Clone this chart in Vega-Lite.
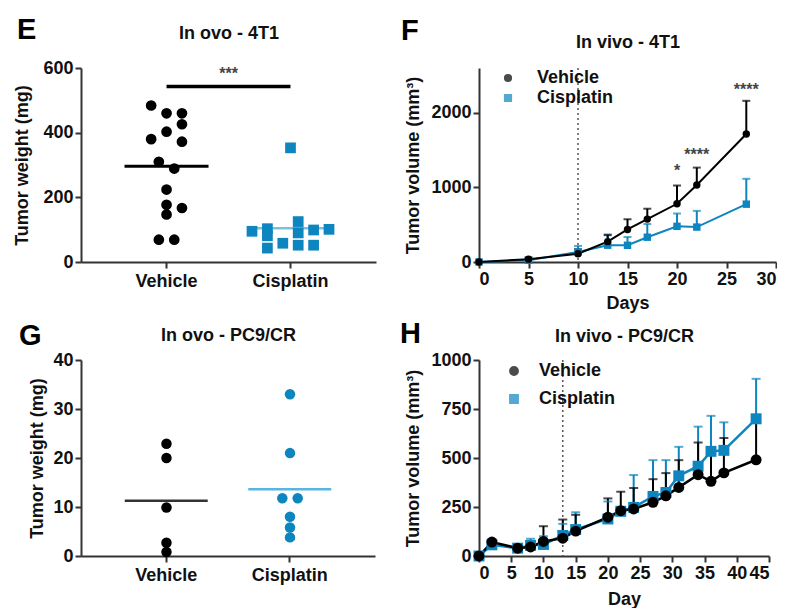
{
  "$schema": "https://vega.github.io/schema/vega-lite/v6.json",
  "padding": {"left": 13, "top": 16, "right": 0, "bottom": 0},
  "config": {
    "font": "Liberation Sans",
    "view": {"stroke": null},
    "axis": {"grid": false, "domainColor": "#333333", "domainWidth": 2, "tickColor": "#333333", "tickWidth": 2, "tickSize": 6, "labelFont": "Liberation Sans", "labelFontWeight": "bold", "labelFontSize": 18, "labelColor": "#111111", "titleFont": "Liberation Sans", "titleFontWeight": "bold", "titleFontSize": 18, "titleColor": "#111111", "labelPadding": 2, "titlePadding": 8},
    "axisQuantitative": {"format": "d"},
    "title": {"font": "Liberation Sans", "fontWeight": "bold", "fontSize": 29, "color": "#000000"},
    "legend": {"labelFont": "Liberation Sans", "labelFontWeight": "bold", "labelFontSize": 18, "labelColor": "#111111"}
  },
  "columns": 2,
  "bounds": "flush",
  "spacing": {"row": 98, "column": 103},
  "resolve": {"scale": {"color": "independent", "shape": "independent", "fill": "independent"}},
  "concat": [
    {
      "width": 295, "height": 194,
      "title": {"text": "E", "anchor": "start", "frame": "bounds", "offset": -21, "dx": 3},
      "data": {"values": [
        {"group": "Vehicle", "weight": 484, "slot": -2},
        {"group": "Vehicle", "weight": 460, "slot": 0},
        {"group": "Vehicle", "weight": 460, "slot": 2},
        {"group": "Vehicle", "weight": 426, "slot": 2},
        {"group": "Vehicle", "weight": 403, "slot": 0},
        {"group": "Vehicle", "weight": 380, "slot": -2},
        {"group": "Vehicle", "weight": 372, "slot": 2},
        {"group": "Vehicle", "weight": 310, "slot": -1},
        {"group": "Vehicle", "weight": 289, "slot": 1},
        {"group": "Vehicle", "weight": 224, "slot": 0},
        {"group": "Vehicle", "weight": 177, "slot": 0},
        {"group": "Vehicle", "weight": 167, "slot": 2},
        {"group": "Vehicle", "weight": 147, "slot": 0},
        {"group": "Vehicle", "weight": 69, "slot": -1},
        {"group": "Vehicle", "weight": 69, "slot": 1},
        {"group": "Cisplatin", "weight": 95, "slot": -5},
        {"group": "Cisplatin", "weight": 103, "slot": -3},
        {"group": "Cisplatin", "weight": 81, "slot": -3},
        {"group": "Cisplatin", "weight": 43, "slot": -3},
        {"group": "Cisplatin", "weight": 58, "slot": -1},
        {"group": "Cisplatin", "weight": 125, "slot": 1},
        {"group": "Cisplatin", "weight": 90, "slot": 1},
        {"group": "Cisplatin", "weight": 52, "slot": 1},
        {"group": "Cisplatin", "weight": 99, "slot": 3},
        {"group": "Cisplatin", "weight": 52, "slot": 3},
        {"group": "Cisplatin", "weight": 101, "slot": 5},
        {"group": "Cisplatin", "weight": 353, "slot": 0}
      ]},
      "layer": [
        {
          "transform": [{"filter": "datum.group === 'Cisplatin'"}],
          "mark": {"type": "tick", "orient": "horizontal", "size": 84, "thickness": 2.5, "color": "#7cc0dd"},
          "encoding": {
            "x": {"field": "group", "type": "nominal", "scale": {"domain": ["Vehicle", "Cisplatin"], "paddingInner": 0, "paddingOuter": 0.19}, "axis": {"orient": "top", "title": "In ovo - 4T1", "labels": false, "ticks": false, "domain": false, "titleFontSize": 18, "titlePadding": 26}},
            "y": {"aggregate": "mean", "field": "weight", "type": "quantitative", "scale": {"domain": [0, 600]}}
          }
        },
        {
          "layer": [
            {
              "mark": {"type": "point", "filled": true, "opacity": 1, "size": 115},
              "encoding": {
                "x": {"field": "group", "type": "nominal", "scale": {"domain": ["Vehicle", "Cisplatin"], "paddingInner": 0, "paddingOuter": 0.19}, "axis": {"orient": "bottom", "title": null, "labelAngle": 0, "labelPadding": 4}},
                "xOffset": {"field": "slot", "type": "quantitative", "scale": {"domain": [-5, 5], "range": [23.5, 100.5]}},
                "y": {"field": "weight", "type": "quantitative", "scale": {"domain": [0, 600]}, "axis": {"title": "Tumor weight (mg)", "values": [0, 200, 400, 600], "titlePadding": 11}},
                "color": {"field": "group", "type": "nominal", "scale": {"domain": ["Vehicle", "Cisplatin"], "range": ["#000000", "#0d85bf"]}, "legend": null},
                "shape": {"field": "group", "type": "nominal", "scale": {"domain": ["Vehicle", "Cisplatin"], "range": ["circle", "square"]}, "legend": null}
              }
            },
            {
              "transform": [{"filter": "datum.group === 'Vehicle'"}],
              "mark": {"type": "tick", "orient": "horizontal", "size": 84, "thickness": 3, "color": "#000000"},
              "encoding": {
                "x": {"field": "group", "type": "nominal"},
                "y": {"aggregate": "mean", "field": "weight", "type": "quantitative"}
              }
            },
            {
              "data": {"values": [{"a": "Vehicle", "b": "Cisplatin", "y": 543, "ty": 580, "label": "***"}]},
              "layer": [
                {
                  "mark": {"type": "rule", "strokeWidth": 3.5, "color": "#000000"},
                  "encoding": {
                    "x": {"field": "a", "type": "nominal"},
                    "x2": {"field": "b"},
                    "y": {"field": "y", "type": "quantitative"}
                  }
                },
                {
                  "mark": {"type": "text", "dx": 62, "fontSize": 16, "fontWeight": "bold", "color": "#444444", "baseline": "middle"},
                  "encoding": {
                    "x": {"field": "a", "type": "nominal"},
                    "y": {"field": "ty", "type": "quantitative"},
                    "text": {"field": "label"}
                  }
                }
              ]
            }
          ]
        }
      ],
      "resolve": {"axis": {"x": "independent"}}
    },
    {
      "width": 297, "height": 194,
      "title": {"text": "F", "anchor": "start", "frame": "bounds", "offset": -13, "dx": -4},
      "layer": [
        {
          "data": {"values": [{"day": 10}]},
          "mark": {"type": "rule", "color": "#555555", "strokeDash": [2, 3], "strokeWidth": 1.5},
          "encoding": {
            "x": {"field": "day", "type": "quantitative", "scale": {"domain": [0, 30]}, "axis": {"orient": "top", "title": "In vivo - 4T1", "labels": false, "ticks": false, "domain": false, "titleFontSize": 18, "titlePadding": 17}}
          }
        },
        {
          "data": {"values": [
            {"group": "Cisplatin", "day": 0, "vol": 0, "upper": null},
            {"group": "Cisplatin", "day": 5, "vol": 24, "upper": 40},
            {"group": "Cisplatin", "day": 10, "vol": 135, "upper": 215},
            {"group": "Cisplatin", "day": 13, "vol": 225, "upper": 370},
            {"group": "Cisplatin", "day": 15, "vol": 224, "upper": 335},
            {"group": "Cisplatin", "day": 17, "vol": 332, "upper": 509},
            {"group": "Cisplatin", "day": 20, "vol": 478, "upper": 650},
            {"group": "Cisplatin", "day": 22, "vol": 468, "upper": 685},
            {"group": "Cisplatin", "day": 27, "vol": 775, "upper": 1115},
            {"group": "Vehicle", "day": 0, "vol": 0, "upper": null},
            {"group": "Vehicle", "day": 5, "vol": 38, "upper": 60},
            {"group": "Vehicle", "day": 10, "vol": 110, "upper": 170},
            {"group": "Vehicle", "day": 13, "vol": 273, "upper": 360},
            {"group": "Vehicle", "day": 15, "vol": 436, "upper": 573},
            {"group": "Vehicle", "day": 17, "vol": 575, "upper": 714},
            {"group": "Vehicle", "day": 20, "vol": 780, "upper": 1025},
            {"group": "Vehicle", "day": 22, "vol": 1032, "upper": 1265},
            {"group": "Vehicle", "day": 27, "vol": 1716, "upper": 2160}
          ]},
          "encoding": {
            "x": {"field": "day", "type": "quantitative", "scale": {"domain": [0, 30]}, "axis": {"orient": "bottom", "title": "Days", "values": [0, 5, 10, 15, 20, 25, 30], "titlePadding": 6}},
            "color": {"field": "group", "type": "nominal", "scale": {"domain": ["Vehicle", "Cisplatin"], "range": ["#000000", "#0d85bf"]},
              "legend": {"title": null, "orient": "none", "legendX": 20, "legendY": 1, "symbolSize": 45, "rowPadding": 2, "labelOffset": 20}
            }
          },
          "layer": [
            {
              "transform": [{"filter": {"field": "upper", "valid": true}}],
              "mark": {"type": "rule", "strokeWidth": 2},
              "encoding": {
                "y": {"field": "vol", "type": "quantitative", "scale": {"domain": [0, 2500]}, "axis": {"title": "Tumor volume (mm³)", "values": [0, 500, 1000, 1500, 2000, 2500]}},
                "y2": {"field": "upper"}
              }
            },
            {
              "transform": [{"filter": {"field": "upper", "valid": true}}],
              "mark": {"type": "tick", "orient": "horizontal", "size": 8, "thickness": 2},
              "encoding": {"y": {"field": "upper", "type": "quantitative"}}
            },
            {
              "mark": {"type": "line", "strokeWidth": 2},
              "encoding": {"y": {"field": "vol", "type": "quantitative"}}
            },
            {
              "mark": {"type": "point", "filled": true, "opacity": 1, "size": 55},
              "encoding": {
                "y": {"field": "vol", "type": "quantitative"},
                "shape": {"field": "group", "type": "nominal", "scale": {"domain": ["Vehicle", "Cisplatin"], "range": ["circle", "square"]}}
              }
            },
            {
              "data": {"values": [
                {"day": 20, "v": 1220, "label": "*"},
                {"day": 22, "v": 1440, "label": "****"},
                {"day": 27, "v": 2310, "label": "****"}
              ]},
              "mark": {"type": "text", "fontSize": 16, "fontWeight": "bold", "color": "#444444", "baseline": "middle"},
              "encoding": {
                "y": {"field": "v", "type": "quantitative"},
                "text": {"field": "label"},
                "color": {"value": "#444444"}
              }
            }
          ]
        }
      ],
      "resolve": {"axis": {"x": "independent"}}
    },
    {
      "width": 294, "height": 196,
      "title": {"text": "G", "anchor": "start", "frame": "bounds", "offset": -25, "dx": -10},
      "data": {"values": [
        {"group": "Vehicle", "weight": 22.9, "slot": 0},
        {"group": "Vehicle", "weight": 20.0, "slot": 0},
        {"group": "Vehicle", "weight": 9.9, "slot": 0},
        {"group": "Vehicle", "weight": 2.7, "slot": 0},
        {"group": "Vehicle", "weight": 0.8, "slot": 0},
        {"group": "Cisplatin", "weight": 33.0, "slot": 0},
        {"group": "Cisplatin", "weight": 21.0, "slot": 0},
        {"group": "Cisplatin", "weight": 11.8, "slot": -1},
        {"group": "Cisplatin", "weight": 11.8, "slot": 1},
        {"group": "Cisplatin", "weight": 8.0, "slot": 0},
        {"group": "Cisplatin", "weight": 5.8, "slot": 0},
        {"group": "Cisplatin", "weight": 3.8, "slot": 0}
      ]},
      "layer": [
        {
          "mark": {"type": "tick", "orient": "horizontal", "size": 83, "thickness": 2.5},
          "encoding": {
            "x": {"field": "group", "type": "nominal", "scale": {"domain": ["Vehicle", "Cisplatin"], "paddingInner": 0, "paddingOuter": 0.19}, "axis": {"orient": "top", "title": "In ovo - PC9/CR", "labels": false, "ticks": false, "domain": false, "titleFontSize": 18, "titlePadding": 16}},
            "y": {"aggregate": "mean", "field": "weight", "type": "quantitative", "scale": {"domain": [0, 40]}},
            "color": {"field": "group", "type": "nominal", "scale": {"domain": ["Vehicle", "Cisplatin"], "range": ["#333333", "#5ab4de"]}, "legend": null}
          }
        },
        {
          "mark": {"type": "point", "filled": true, "opacity": 1, "size": 110, "shape": "circle"},
          "encoding": {
            "x": {"field": "group", "type": "nominal", "scale": {"domain": ["Vehicle", "Cisplatin"], "paddingInner": 0, "paddingOuter": 0.19}, "axis": {"orient": "bottom", "title": null, "labelAngle": 0, "labelPadding": 4}},
            "xOffset": {"field": "slot", "type": "quantitative", "scale": {"domain": [-5, 5], "range": [23.3, 100.3]}},
            "y": {"field": "weight", "type": "quantitative", "scale": {"domain": [0, 40]}, "axis": {"title": "Tumor weight (mg)", "values": [0, 10, 20, 30, 40], "titlePadding": 6}},
            "fill": {"field": "group", "type": "nominal", "scale": {"domain": ["Vehicle", "Cisplatin"], "range": ["#000000", "#0d85bf"]}, "legend": null}
          }
        }
      ],
      "resolve": {"axis": {"x": "independent"}, "scale": {"color": "independent"}}
    },
    {
      "width": 290, "height": 196,
      "title": {"text": "H", "anchor": "start", "frame": "bounds", "offset": -22, "dx": -5},
      "layer": [
        {
          "data": {"values": [{"day": 13}]},
          "mark": {"type": "rule", "color": "#555555", "strokeDash": [2, 3], "strokeWidth": 1.5},
          "encoding": {
            "x": {"field": "day", "type": "quantitative", "scale": {"domain": [0, 45]}, "axis": {"orient": "top", "title": "In vivo - PC9/CR", "labels": false, "ticks": false, "domain": false, "titleFontSize": 18, "titlePadding": 15}}
          }
        },
        {
          "data": {"values": [
            {"group": "Cisplatin", "day": 0, "vol": 0, "upper": null},
            {"group": "Cisplatin", "day": 2, "vol": 57, "upper": 70},
            {"group": "Cisplatin", "day": 6, "vol": 40, "upper": 45},
            {"group": "Cisplatin", "day": 8, "vol": 54, "upper": 88},
            {"group": "Cisplatin", "day": 10, "vol": 59, "upper": 101},
            {"group": "Cisplatin", "day": 13, "vol": 105, "upper": 164},
            {"group": "Cisplatin", "day": 15, "vol": 135, "upper": 223},
            {"group": "Cisplatin", "day": 20, "vol": 189, "upper": 278},
            {"group": "Cisplatin", "day": 22, "vol": 228, "upper": 250},
            {"group": "Cisplatin", "day": 24, "vol": 248, "upper": 413},
            {"group": "Cisplatin", "day": 27, "vol": 304, "upper": 489},
            {"group": "Cisplatin", "day": 29, "vol": 324, "upper": 489},
            {"group": "Cisplatin", "day": 31, "vol": 409, "upper": 557},
            {"group": "Cisplatin", "day": 34, "vol": 458, "upper": 660},
            {"group": "Cisplatin", "day": 36, "vol": 534, "upper": 715},
            {"group": "Cisplatin", "day": 38, "vol": 539, "upper": 682},
            {"group": "Cisplatin", "day": 43, "vol": 700, "upper": 904},
            {"group": "Vehicle", "day": 0, "vol": 0, "upper": null},
            {"group": "Vehicle", "day": 2, "vol": 71, "upper": 80},
            {"group": "Vehicle", "day": 6, "vol": 40, "upper": 45},
            {"group": "Vehicle", "day": 8, "vol": 46, "upper": 62},
            {"group": "Vehicle", "day": 10, "vol": 74, "upper": 152},
            {"group": "Vehicle", "day": 13, "vol": 91, "upper": 186},
            {"group": "Vehicle", "day": 15, "vol": 127, "upper": 210},
            {"group": "Vehicle", "day": 20, "vol": 198, "upper": 294},
            {"group": "Vehicle", "day": 22, "vol": 231, "upper": 328},
            {"group": "Vehicle", "day": 24, "vol": 240, "upper": 347},
            {"group": "Vehicle", "day": 27, "vol": 274, "upper": 392},
            {"group": "Vehicle", "day": 29, "vol": 307, "upper": 423},
            {"group": "Vehicle", "day": 31, "vol": 350, "upper": 489},
            {"group": "Vehicle", "day": 34, "vol": 415, "upper": 579},
            {"group": "Vehicle", "day": 36, "vol": 381, "upper": 541},
            {"group": "Vehicle", "day": 38, "vol": 424, "upper": 602},
            {"group": "Vehicle", "day": 43, "vol": 491, "upper": 716}
          ]},
          "encoding": {
            "x": {"field": "day", "type": "quantitative", "scale": {"domain": [0, 45]}, "axis": {"orient": "bottom", "title": "Day", "values": [0, 5, 10, 15, 20, 25, 30, 35, 40, 45], "titlePadding": 8}},
            "color": {"field": "group", "type": "nominal", "scale": {"domain": ["Vehicle", "Cisplatin"], "range": ["#000000", "#0d85bf"]},
              "legend": {"title": null, "orient": "none", "legendX": 26, "legendY": 2, "symbolSize": 70, "rowPadding": 10, "labelOffset": 16}
            }
          },
          "layer": [
            {
              "transform": [{"filter": {"field": "upper", "valid": true}}],
              "mark": {"type": "rule", "strokeWidth": 2},
              "encoding": {
                "y": {"field": "vol", "type": "quantitative", "scale": {"domain": [0, 1000]}, "axis": {"title": "Tumor volume (mm³)", "values": [0, 250, 500, 750, 1000]}},
                "y2": {"field": "upper"}
              }
            },
            {
              "transform": [{"filter": {"field": "upper", "valid": true}}],
              "mark": {"type": "tick", "orient": "horizontal", "size": 9, "thickness": 2},
              "encoding": {"y": {"field": "upper", "type": "quantitative"}}
            },
            {
              "mark": {"type": "line", "strokeWidth": 2.5},
              "encoding": {"y": {"field": "vol", "type": "quantitative"}}
            },
            {
              "mark": {"type": "point", "filled": true, "opacity": 1, "size": 120},
              "encoding": {
                "y": {"field": "vol", "type": "quantitative"},
                "shape": {"field": "group", "type": "nominal", "scale": {"domain": ["Vehicle", "Cisplatin"], "range": ["circle", "square"]}}
              }
            }
          ]
        }
      ],
      "resolve": {"axis": {"x": "independent"}}
    }
  ]
}
